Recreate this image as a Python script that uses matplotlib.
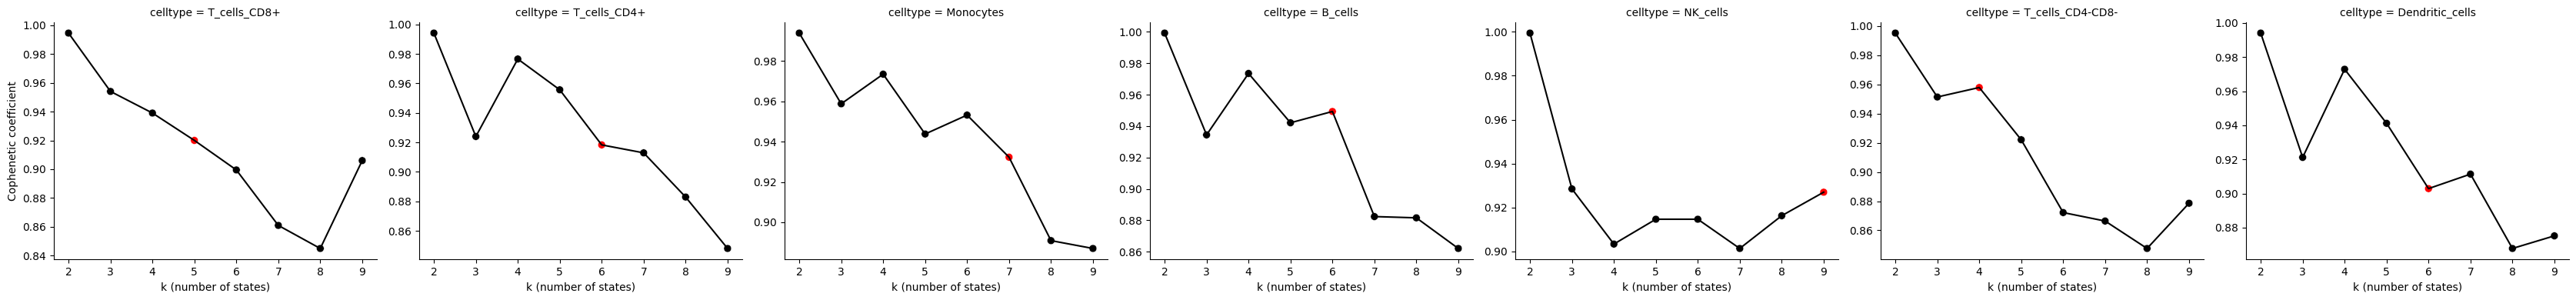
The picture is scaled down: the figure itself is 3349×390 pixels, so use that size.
import numpy as np
import matplotlib
matplotlib.use('Agg')
import matplotlib.pyplot as plt

# Data
ks = [2, 3, 4, 5, 6, 7, 8, 9]
celltypes = ['T_cells_CD8+', 'T_cells_CD4+', 'Monocytes', 'B_cells',
             'NK_cells', 'T_cells_CD4-CD8-', 'Dendritic_cells']

cd8 = [0.9945, 0.954, 0.939, 0.920, 0.8995, 0.861, 0.845, 0.906]
cd4 = [0.9942, 0.924, 0.9766, 0.9557, 0.9183, 0.9129, 0.8829, 0.848]
mono = [0.9939, 0.9588, 0.9735, 0.9438, 0.9532, 0.9323, 0.8909, 0.887]
bcells = [0.9992, 0.9344, 0.9735, 0.9421, 0.9493, 0.8824, 0.8816, 0.8621]
nk = [0.9994, 0.9285, 0.9034, 0.9147, 0.9147, 0.9014, 0.9163, 0.927]
dn = [0.9952, 0.9514, 0.9579, 0.9221, 0.8722, 0.8664, 0.8476, 0.8786]
dc = [0.9941, 0.9212, 0.9729, 0.9412, 0.9029, 0.9114, 0.8678, 0.8752]

series = [cd8, cd4, mono, bcells, nk, dn, dc]
best_k = [5, 6, 7, 6, 9, 4, 6]


def main():
    fig, axes = plt.subplots(1, 7, figsize=(33.49, 3.9), dpi=100)
    fig.subplots_adjust(left=70 / 3349, right=3340 / 3349,
                        bottom=1 - 337 / 390, top=1 - 29 / 390,
                        wspace=55 / 420)

    for ax, name, vals, kb in zip(axes, celltypes, series, best_k):
        cols = ['red' if k == kb else 'black' for k in ks]
        ax.scatter(ks, vals, c=cols, s=50, edgecolors='white',
                   linewidths=0.3, zorder=2)
        ax.plot(ks, vals, color='black', lw=1.5, zorder=3)
        ax.set_title('celltype = ' + name, fontsize=10)
        ax.set_xlabel('k (number of states)', fontsize=10)
        ax.set_xticks(ks)
        ax.tick_params(labelsize=10)
        ax.spines['top'].set_visible(False)
        ax.spines['right'].set_visible(False)

    axes[0].set_ylabel('Cophenetic coefficient', fontsize=10)

    fig.savefig('out.png', dpi=100)
    return 0


if __name__ == '__main__':
    main()
